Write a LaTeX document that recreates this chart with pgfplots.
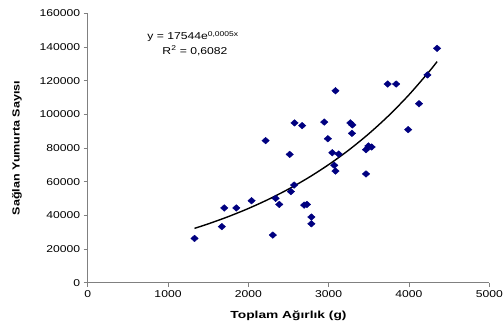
\documentclass[border=0pt]{standalone}
\usepackage{fontspec}
\setmainfont{Liberation Sans}[FakeStretch=1.22]
\usepackage{pgfplots}
\pgfplotsset{compat=1.18}
\definecolor{navy}{HTML}{000080}
\definecolor{axgray}{HTML}{808080}
\begin{document}
\begin{tikzpicture}
\begin{axis}[
  scale only axis, width=401.6bp, height=269.4bp,
  xmin=0, xmax=5000, ymin=0, ymax=160000,
  axis lines*=left,
  axis line style={axgray, line width=0.8bp},
  tick style={axgray, line width=0.8bp},
  xtick={0,1000,...,5000}, ytick={0,20000,...,160000},
  scaled ticks=false,
  xticklabel={\pgfmathtruncatemacro\tk{\tick}\tk},
  yticklabel={\pgfmathtruncatemacro\tk{\tick}\tk},
  tick align=outside, major tick length=4bp,
  ticklabel style={font=\fontsize{10}{12}\selectfont},
  xlabel={Toplam Ağırlık (g)}, ylabel={Sağlan Yumurta Sayısı},
  label style={font=\bfseries\fontsize{10.3}{12}\selectfont},
  xlabel style={at={(axis description cs:0.5,-0.1247)}, anchor=center, xscale=1.1},
  ylabel style={at={(axis description cs:-0.176,0.5)}, anchor=center},
]
\addplot[only marks, mark=diamond*, mark size=3.3bp, color=navy, mark options={fill=navy, draw=navy, xscale=1.5}] coordinates {
(1330,26300) (1670,33300) (1700,44400) (1850,44400) (2040,48700)
(2215,84400) (2305,28300) (2340,50100) (2385,46500) (2515,76200)
(2530,54100) (2570,58000) (2575,94900) (2670,93300) (2695,46100)
(2730,46500) (2785,39000) (2785,35000) (2945,95400) (2990,85500)
(3045,77200) (3070,69700) (3085,114000) (3085,66300) (3125,76400)
(3270,94900) (3295,93700) (3290,88700) (3465,64600) (3465,79000)
(3495,81200) (3535,80600) (3735,118000) (3840,118000) (3990,90900)
(4125,106300) (4230,123400) (4350,139200)
};
\addplot[black, line width=1.4bp, smooth, no markers] coordinates {
(1330,32277) (1500,34932) (1750,39233) (2000,44066) (2250,49493)
(2500,55588) (2750,62435) (3000,70125) (3250,78763) (3500,88462)
(3750,99359) (4000,111597) (4250,125341) (4350,131304)
};
\node[font=\fontsize{10}{12}\selectfont] at (axis cs:1311,146125) {y = 17544e\textsuperscript{0,0005x}};
\node[font=\fontsize{10}{12}\selectfont] at (axis cs:1336,137800) {R\textsuperscript{2} = 0,6082};
\end{axis}
\pgfresetboundingbox
\path (-87.7bp,-44.3bp) rectangle (416.3bp,282.7bp);
\end{tikzpicture}
\end{document}
